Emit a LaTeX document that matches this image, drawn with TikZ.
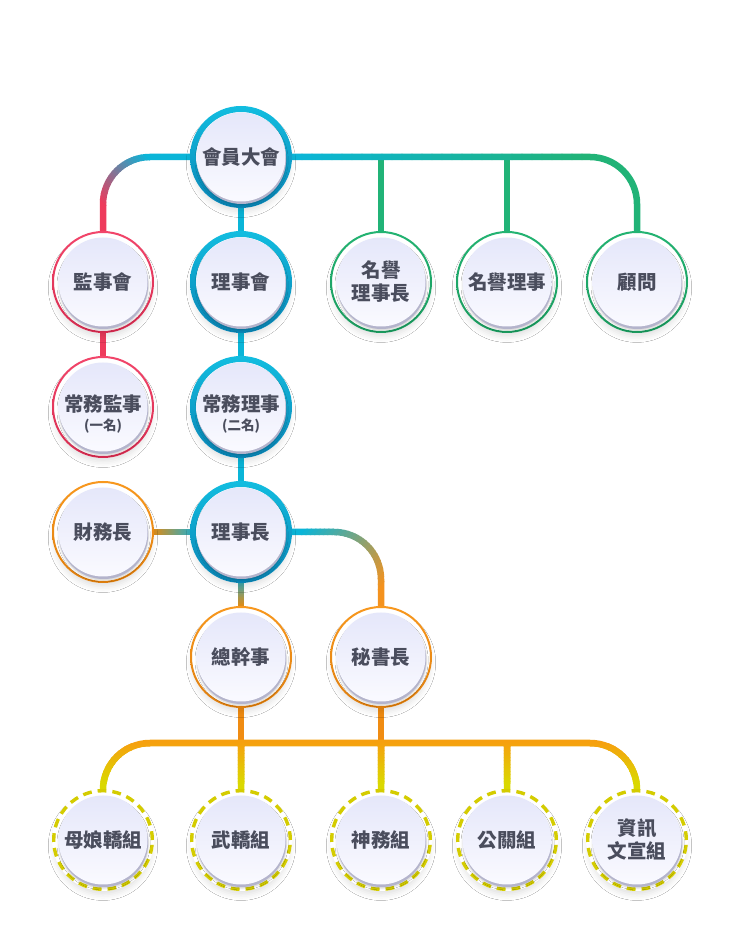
\documentclass[tikz,border=0pt]{standalone}
\usepackage{fontspec}
\setmainfont{Noto Sans CJK TC}
\usetikzlibrary{shadows.blur}
\definecolor{txtc}{HTML}{4A4D5D}
\definecolor{cyT}{HTML}{12BDE0}
\definecolor{cyB}{HTML}{0A84B4}
\definecolor{cyL}{HTML}{0AB5D8}
\definecolor{rdT}{HTML}{F2456A}
\definecolor{rdB}{HTML}{D62C50}
\definecolor{rdL}{HTML}{EE3B5C}
\definecolor{grT}{HTML}{23B372}
\definecolor{grB}{HTML}{1A9A5E}
\definecolor{grL}{HTML}{21B377}
\definecolor{orT}{HTML}{F8981E}
\definecolor{orB}{HTML}{DE7E0E}
\definecolor{orA}{HTML}{D98C1A}
\definecolor{tealL}{HTML}{3AABB6}
\definecolor{orL}{HTML}{F4921E}
\definecolor{orD}{HTML}{F08C12}
\definecolor{busO}{HTML}{F6A00F}
\definecolor{yelL}{HTML}{DAD800}
\definecolor{yel}{HTML}{D4CC00}
\definecolor{diskT}{HTML}{E5E7FA}
\definecolor{diskB}{HTML}{FAFAFF}
\definecolor{dsh}{HTML}{B4B4CC}
\pgfdeclarelayer{bg}
\pgfsetlayers{bg,main}
\tikzset{
  con/.style={line width=6.5pt},
  lbl/.style={circle, minimum size=102pt, inner sep=0pt, align=center, text=txtc,
    font=\bfseries\fontsize{19.5}{23}\selectfont},
}
\newcommand\subf{\fontsize{13.5}{16}\selectfont}
\newcommand\deco[3]{%
  \begin{scope}[shift={(#1,#2)}]
    \fill[white, blur shadow={shadow xshift=0pt, shadow yshift=-6pt, shadow scale=0.96, shadow blur radius=6pt, shadow opacity=12}] (0,0) circle (51pt);
    #3
    \fill[dsh, blur shadow={shadow xshift=0pt, shadow yshift=-1pt, shadow blur radius=2pt, shadow opacity=22}] (0.6pt,-2.4pt) circle (44.6pt);
    \shade[top color=diskT, bottom color=diskB] (0,0) circle (44.5pt);
  \end{scope}}
\newcommand\ringthick{\shade[even odd rule, top color=cyT, bottom color=cyB] (0,0) circle (51pt) (0,0) circle (45pt);}
\newcommand\ringthin[2]{\shade[even odd rule, top color=#1, bottom color=#2] (0,0) circle (51pt) (0,0) circle (49pt);}
\newcommand\ringdash{\draw[yel, line width=3.4pt, dash pattern=on 8.8pt off 6pt] (0,0) circle (49.3pt);}
\newcommand\org[5]{\deco{#2}{#3}{#4}\node[lbl] (#1) at (#2,#3) {#5};}
% #1 start colour, #2 end colour, #3 #4 origin, #5 angle, #6 length, #7 path
\newcommand\gradconn[7]{%
  \foreach \i in {0,...,29}{%
    \pgfmathsetmacro\pc{100-\i*100/29}%
    \pgfmathsetmacro\ga{\i==0 ? -500 : \i*#6/30-0.4}%
    \pgfmathsetmacro\gb{\i==29 ? 500 : (\i+1)*#6/30+0.4}%
    \pgfmathsetmacro\cc{cos(#5)}%
    \pgfmathsetmacro\ss{sin(#5)}%
    \begin{scope}
      \clip ({#3+\ga*\cc+600*\ss},{#4+\ga*\ss-600*\cc}) --
            ({#3+\gb*\cc+600*\ss},{#4+\gb*\ss-600*\cc}) --
            ({#3+\gb*\cc-600*\ss},{#4+\gb*\ss+600*\cc}) --
            ({#3+\ga*\cc-600*\ss},{#4+\ga*\ss+600*\cc}) -- cycle;
      \draw[con, rounded corners=47pt, color=#1!\pc!#2] #7;
    \end{scope}
  }}
\begin{document}
\begin{tikzpicture}[x=1pt,y=1pt]
\useasboundingbox (0,0) rectangle (742,942);

\org{hy}{241}{785}{\ringthick}{會員大會}
\org{js}{103}{660}{\ringthin{rdT}{rdB}}{監事會}
\org{lsh}{241}{660}{\ringthick}{理事會}
\org{mylz}{381}{660}{\ringthin{grT}{grB}}{名譽\\理事長}
\org{myls}{507}{660}{\ringthin{grT}{grB}}{名譽理事}
\org{gw}{637}{660}{\ringthin{grT}{grB}}{顧問}
\org{cwjs}{103}{535}{\ringthin{rdT}{rdB}}{{\subf\phantom{(一名)}}\\[-4pt]常務監事\\[-4pt]{\subf(一名)}}
\org{cwls}{241}{535}{\ringthick}{{\subf\phantom{(二名)}}\\[-4pt]常務理事\\[-4pt]{\subf(二名)}}
\org{cwz}{103}{410}{\ringthin{orT}{orB}}{財務長}
\org{lsz}{241}{410}{\ringthick}{理事長}
\org{zgs}{241}{285}{\ringthin{orT}{orB}}{總幹事}
\org{msz}{381}{285}{\ringthin{orT}{orB}}{秘書長}
\org{mn}{103}{102}{\ringdash}{母娘轎組}
\org{wj}{241}{102}{\ringdash}{武轎組}
\org{sw}{381}{102}{\ringdash}{神務組}
\org{gg}{507}{102}{\ringdash}{公關組}
\org{zx}{637}{102}{\ringdash}{資訊\\文宣組}
\coordinate (bus) at (370,199);

\begin{pgfonlayer}{bg}
  \fill[white] (0,0) rectangle (742,942);
  % top level
  \gradconn{rdL}{cyL}{103}{737}{45}{67}{(hy.west) -| (js.north)}
  \draw[con, grL] (mylz.north) -- (mylz.north |- hy.center);
  \draw[con, grL] (myls.north) -- (myls.north |- hy.center);
  \gradconn{cyL}{grL}{292}{785}{0}{300}{(hy.east) -| (gw.north)}
  % central column
  \draw[con, cyL] (hy.south) -- (lsh.north);
  \draw[con, cyL] (lsh.south) -- (cwls.north);
  \draw[con, cyL] (cwls.south) -- (lsz.north);
  \draw[con, rdL] (js.south) -- (cwjs.north);
  % around 理事長
  \gradconn{orA}{tealL}{154}{410}{0}{36}{(lsz.west) -- (cwz.east)}
  \gradconn{tealL}{orA}{241}{359}{-90}{23}{(lsz.south) -- (zgs.north)}
  \gradconn{cyL}{orL}{300}{410}{-40}{100}{(lsz.east) -| (msz.north)}
  % bottom bus
  \draw[con, orD] (zgs.south) -- (zgs.south |- bus);
  \draw[con, orD] (msz.south) -- (msz.south |- bus);
  \gradconn{busO}{yelL}{370}{199}{-90}{42}{(mn.center) |- (bus) -| (zx.center) (wj.center) -- (wj.center |- bus) (sw.center) -- (sw.center |- bus) (gg.center) -- (gg.center |- bus)}
\end{pgfonlayer}
\end{tikzpicture}
\end{document}
